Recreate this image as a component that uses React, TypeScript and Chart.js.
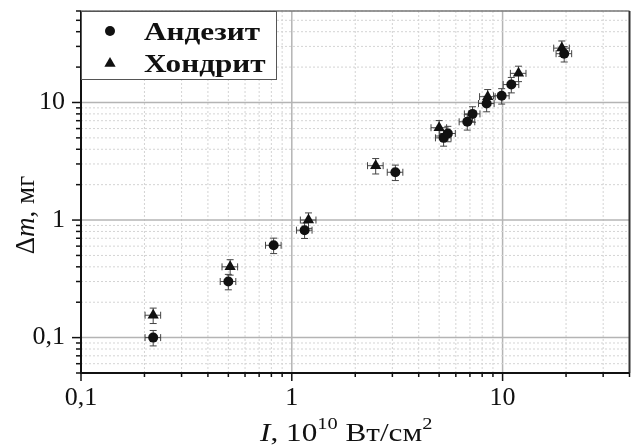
import { useEffect, useRef } from 'react';
import { Chart, registerables } from 'chart.js';

Chart.register(...registerables);

// ---- data ----
const seriesLabels = ['Андезит', 'Хондрит'];

const andesiteX = [0.22, 0.5, 0.82, 1.15, 3.1, 5.25, 5.5, 6.8, 7.2, 8.4, 9.9, 11.0, 19.6];
const andesiteY = [0.1, 0.3, 0.61, 0.82, 2.55, 5.0, 5.45, 6.85, 8.0, 9.8, 11.4, 14.2, 26.0];

const chondriteX = [0.22, 0.51, 1.2, 2.5, 5.0, 8.5, 11.9, 19.1];
const chondriteY = [0.155, 0.4, 1.0, 2.9, 6.1, 11.2, 17.7, 29.0];

// relative measurement errors
const xErrFrac = 0.085;
const yErrFrac = 0.15;

const xMin = 0.1;
const xMax = 40;
const yMin = 0.05;
const yMax = 60;

const xTickLabels: Record<string, string> = { '0.1': '0,1', '1': '1', '10': '10' };
const yTickLabels: Record<string, string> = { '0.1': '0,1', '1': '1', '10': '10' };

const FONT = "'Liberation Serif', 'Times New Roman', serif";

function isDecade(v: number) {
  const l = Math.log10(v);
  return Math.abs(l - Math.round(l)) < 1e-6;
}
function isIntMantissa(v: number) {
  const e = Math.floor(Math.log10(v) + 1e-9);
  const m = v / Math.pow(10, e);
  return Math.abs(m - Math.round(m)) < 1e-6;
}

type Part = { t: string; f: string; dy: number };

const framePlugin = {
  id: 'frameGridErr',
  beforeDatasetsDraw(chart: any) {
    const { ctx, chartArea: a } = chart;
    const xs = chart.scales.x;
    const ys = chart.scales.y;
    ctx.save();
    const drawGrid = (scale: any, horizontal: boolean) => {
      scale.ticks.forEach((t: any) => {
        const v = t.value;
        if (!isIntMantissa(v)) return;
        const p = scale.getPixelForValue(v);
        const major = isDecade(v);
        ctx.beginPath();
        if (major) {
          ctx.setLineDash([]);
          ctx.strokeStyle = '#b4b4b4';
          ctx.lineWidth = 1.5;
        } else {
          ctx.setLineDash([2, 2]);
          ctx.strokeStyle = '#d4d4d4';
          ctx.lineWidth = 1;
        }
        if (horizontal) {
          ctx.moveTo(a.left, p);
          ctx.lineTo(a.right, p);
        } else {
          ctx.moveTo(p, a.top);
          ctx.lineTo(p, a.bottom);
        }
        ctx.stroke();
      });
    };
    drawGrid(xs, false);
    drawGrid(ys, true);
    ctx.setLineDash([]);
    ctx.strokeStyle = '#777';
    ctx.lineWidth = 1.5;
    ctx.beginPath();
    ctx.moveTo(a.left, a.top);
    ctx.lineTo(a.right, a.top);
    ctx.stroke();
    ctx.strokeStyle = '#333';
    ctx.lineWidth = 2;
    ctx.beginPath();
    ctx.moveTo(a.right, a.top);
    ctx.lineTo(a.right, a.bottom);
    ctx.stroke();
    ctx.strokeStyle = '#111';
    ctx.lineWidth = 2;
    ctx.beginPath();
    ctx.moveTo(a.left, a.top);
    ctx.lineTo(a.left, a.bottom);
    ctx.lineTo(a.right, a.bottom);
    ctx.stroke();
    ctx.lineWidth = 1.5;
    xs.ticks.forEach((t: any) => {
      const v = t.value;
      if (!isIntMantissa(v)) return;
      const p = xs.getPixelForValue(v);
      const len = isDecade(v) ? 8 : 4;
      ctx.beginPath();
      ctx.moveTo(p, a.bottom);
      ctx.lineTo(p, a.bottom + len);
      ctx.stroke();
    });
    ys.ticks.forEach((t: any) => {
      const v = t.value;
      if (!isIntMantissa(v)) return;
      const p = ys.getPixelForValue(v);
      const len = isDecade(v) ? 9 : 5;
      ctx.beginPath();
      ctx.moveTo(a.left, p);
      ctx.lineTo(a.left - len, p);
      ctx.stroke();
    });
    // error bars
    ctx.strokeStyle = '#444';
    ctx.lineWidth = 1;
    const cap = 3.5;
    chart.data.datasets.forEach((ds: any) => {
      ds.data.forEach((pt: any) => {
        const px = xs.getPixelForValue(pt.x);
        const py = ys.getPixelForValue(pt.y);
        const xl = xs.getPixelForValue(pt.x * (1 - xErrFrac));
        const xr = xs.getPixelForValue(pt.x * (1 + xErrFrac));
        const yb = ys.getPixelForValue(pt.y * (1 - yErrFrac));
        const yt = ys.getPixelForValue(pt.y * (1 + yErrFrac));
        ctx.beginPath();
        ctx.moveTo(xl, py); ctx.lineTo(xr, py);
        ctx.moveTo(xl, py - cap); ctx.lineTo(xl, py + cap);
        ctx.moveTo(xr, py - cap); ctx.lineTo(xr, py + cap);
        ctx.moveTo(px, yt); ctx.lineTo(px, yb);
        ctx.moveTo(px - cap, yt); ctx.lineTo(px + cap, yt);
        ctx.moveTo(px - cap, yb); ctx.lineTo(px + cap, yb);
        ctx.stroke();
      });
    });
    ctx.restore();
  },
  afterDraw(chart: any) {
    const { ctx, chartArea: a } = chart;
    const drawParts = (parts: Part[], x0: number, y0: number) => {
      let x = x0;
      parts.forEach((p) => {
        ctx.font = p.f;
        ctx.fillText(p.t, x, y0 + p.dy);
        x += ctx.measureText(p.t).width;
      });
    };
    const measure = (parts: Part[]) => {
      let w = 0;
      parts.forEach((p) => { ctx.font = p.f; w += ctx.measureText(p.t).width; });
      return w;
    };

    ctx.save();
    // legend box
    const bx = a.left, by = a.top, bw = 195, bh = 68;
    ctx.fillStyle = '#fff';
    ctx.fillRect(bx, by, bw, bh);
    ctx.strokeStyle = '#555';
    ctx.lineWidth = 1;
    ctx.strokeRect(bx + 0.5, by + 0.5, bw, bh);
    ctx.textBaseline = 'alphabetic';
    ctx.textAlign = 'left';
    chart.data.datasets.forEach((ds: any, i: number) => {
      const cy = by + 20 + i * 32.5;
      const mx = bx + 29;
      ctx.fillStyle = '#111';
      ctx.beginPath();
      if (ds.pointStyle === 'triangle') {
        const r = 6.5;
        ctx.moveTo(mx, cy - r);
        ctx.lineTo(mx + r * 0.866, cy + r * 0.5);
        ctx.lineTo(mx - r * 0.866, cy + r * 0.5);
        ctx.closePath();
      } else {
        ctx.arc(mx, cy, 5, 0, Math.PI * 2);
      }
      ctx.fill();
      ctx.save();
      ctx.translate(bx + 63, cy + 8.5);
      ctx.scale(1.2, 1);
      ctx.font = `bold 26px ${FONT}`;
      ctx.fillText(ds.label, 0, 0);
      ctx.restore();
    });

    // axis titles with mixed fonts
    ctx.fillStyle = '#111';
    const xStretch = 1.2;
    const xParts: Part[] = [
      { t: 'I', f: `italic 26px ${FONT}`, dy: 0 },
      { t: ', 10', f: `26px ${FONT}`, dy: 0 },
      { t: '10', f: `17px ${FONT}`, dy: -12 },
      { t: ' Вт/см', f: `26px ${FONT}`, dy: 0 },
      { t: '2', f: `17px ${FONT}`, dy: -12 },
    ];
    const xw = measure(xParts) * xStretch;
    ctx.save();
    ctx.translate((a.left + a.right) / 2 - 9 - xw / 2, 441);
    ctx.scale(xStretch, 1);
    drawParts(xParts, 0, 0);
    ctx.restore();

    const yParts: Part[] = [
      { t: 'Δ', f: `27px ${FONT}`, dy: 0 },
      { t: 'm', f: `italic 27px ${FONT}`, dy: 0 },
      { t: ', мг', f: `27px ${FONT}`, dy: 0 },
    ];
    const yw = measure(yParts);
    ctx.save();
    ctx.translate(34, 215);
    ctx.rotate(-Math.PI / 2);
    drawParts(yParts, -yw / 2, 0);
    ctx.restore();
    ctx.restore();
  },
};

export default function App() {
  const ref = useRef<HTMLCanvasElement>(null);
  useEffect(() => {
    const chart = new Chart(ref.current as HTMLCanvasElement, {
      type: 'scatter',
      data: {
        datasets: [
          {
            label: seriesLabels[0],
            data: andesiteX.map((x, i) => ({ x, y: andesiteY[i] })),
            pointStyle: 'circle',
            pointRadius: 5,
            backgroundColor: '#111',
            borderColor: '#111',
            borderWidth: 0,
          },
          {
            label: seriesLabels[1],
            data: chondriteX.map((x, i) => ({ x, y: chondriteY[i] })),
            pointStyle: 'triangle',
            pointRadius: 6.5,
            backgroundColor: '#111',
            borderColor: '#111',
            borderWidth: 0,
          },
        ],
      },
      options: {
        responsive: false,
        animation: false,
        layout: { padding: { left: 0, right: 6, top: 11, bottom: 0 } },
        plugins: { legend: { display: false }, tooltip: { enabled: false } },
        scales: {
          x: {
            type: 'logarithmic',
            min: xMin,
            max: xMax,
            grid: { display: false, drawTicks: false },
            border: { display: false },
            afterFit: (s: any) => { s.height = 75; s.paddingLeft = 0; s.paddingRight = 0; },
            ticks: {
              autoSkip: false,
              maxRotation: 0,
              padding: 10,
              color: '#111',
              font: { family: FONT, size: 26 },
              callback: (v: any) => xTickLabels[String(Number(v))] ?? '',
            },
          },
          y: {
            type: 'logarithmic',
            min: yMin,
            max: yMax,
            grid: { display: false, drawTicks: false },
            border: { display: false },
            afterFit: (s: any) => { s.width = 81; s.paddingTop = 0; s.paddingBottom = 0; },
            ticks: {
              autoSkip: false,
              padding: 16,
              color: '#111',
              font: { family: FONT, size: 26 },
              callback: (v: any) => yTickLabels[String(Number(v))] ?? '',
            },
          },
        },
      },
      plugins: [framePlugin],
    } as any);
    return () => chart.destroy();
  }, []);
  return (
    <div style={{ position: 'absolute', left: 0, top: 0, width: 636, height: 448 }}>
      <canvas ref={ref} width={636} height={448} style={{ display: 'block', width: 636, height: 448 }} />
    </div>
  );
}
